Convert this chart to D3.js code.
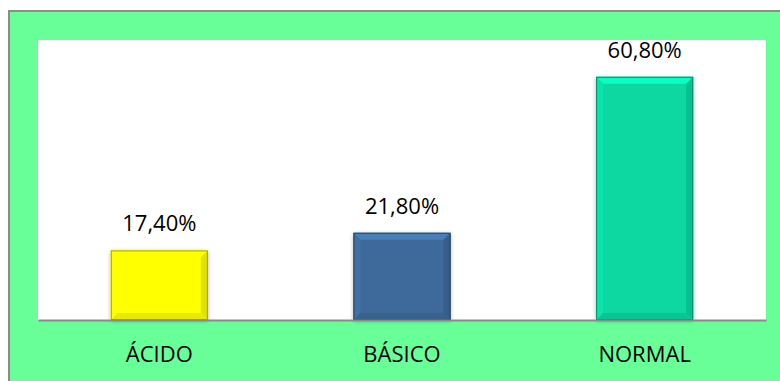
<!DOCTYPE html>
<html>
<head>
<meta charset="utf-8">
<script src="https://cdn.jsdelivr.net/npm/d3@7"></script>
<style>
  body { margin: 0; background: #fff; }
  text { font-family: "Open Sans", "Noto Sans", sans-serif; }
</style>
</head>
<body>
<svg id="chart"></svg>
<script>
// Chart data
const categories = ["ÁCIDO", "BÁSICO", "NORMAL"];
const values = [17.4, 21.8, 60.8];
const barColors = ["#FFFF00", "#3D6A9B", "#08D8A2"];
const yMax = 70;

const width = 780, height = 381;
const plot = { left: 38, right: 766, top: 40, bottom: 320 };

const svg = d3.select("#chart")
    .attr("width", width)
    .attr("height", height);

// Soft shadow for the bars
const defs = svg.append("defs");
const shadow = defs.append("filter").attr("id", "shadow")
    .attr("x", "-20%").attr("y", "-20%").attr("width", "140%").attr("height", "140%");
shadow.append("feDropShadow")
    .attr("dx", 0).attr("dy", 1).attr("stdDeviation", 2)
    .attr("flood-color", "#000").attr("flood-opacity", 0.3);

// Chart area background with the thin border on top/left
svg.append("rect")
    .attr("x", 9).attr("y", 11)
    .attr("width", width).attr("height", height)
    .attr("fill", "#68FF99")
    .attr("stroke", "#8c8c8c")
    .attr("stroke-width", 2);

// Plot area
svg.append("rect")
    .attr("x", plot.left).attr("y", plot.top)
    .attr("width", plot.right - plot.left)
    .attr("height", plot.bottom - plot.top)
    .attr("fill", "#fff");

// Scales
const x = d3.scaleBand()
    .domain(categories)
    .range([plot.left, plot.right])
    .paddingInner(0.6)
    .paddingOuter(0.3);

const y = d3.scaleLinear()
    .domain([0, yMax])
    .range([plot.bottom, plot.top]);

const data = categories.map((c, i) => ({ cat: c, value: values[i], color: barColors[i] }));

// Bars with a bevel look
const bev = 7;
const bars = svg.selectAll(".bar")
    .data(data)
    .enter().append("g")
    .attr("class", "bar");

bars.append("rect")
    .attr("x", d => x(d.cat))
    .attr("y", d => y(d.value))
    .attr("width", x.bandwidth())
    .attr("height", d => y(0) - y(d.value))
    .attr("fill", d => d.color)
    .attr("filter", "url(#shadow)");

function facet(d, side) {
    const x0 = x(d.cat), x1 = x0 + x.bandwidth();
    const y0 = y(d.value), y1 = y(0);
    const pts = {
        top: [[x0, y0], [x1, y0], [x1 - bev, y0 + bev], [x0 + bev, y0 + bev]],
        bottom: [[x0, y1], [x1, y1], [x1 - bev, y1 - bev], [x0 + bev, y1 - bev]],
        left: [[x0, y0], [x0 + bev, y0 + bev], [x0 + bev, y1 - bev], [x0, y1]],
        right: [[x1, y0], [x1 - bev, y0 + bev], [x1 - bev, y1 - bev], [x1, y1]]
    }[side];
    return pts.map(p => p.join(",")).join(" ");
}

const shades = { top: c => d3.color(c).brighter(0.5), left: c => d3.color(c).brighter(0.15),
                 right: c => d3.color(c).darker(0.35), bottom: c => d3.color(c).darker(0.25) };

["top", "left", "right", "bottom"].forEach(side => {
    bars.append("polygon")
        .attr("points", d => facet(d, side))
        .attr("fill", d => shades[side](d.color));
});

bars.append("rect")
    .attr("x", d => x(d.cat) + 0.5)
    .attr("y", d => y(d.value) + 0.5)
    .attr("width", x.bandwidth() - 1)
    .attr("height", d => y(0) - y(d.value) - 1)
    .attr("fill", "none")
    .attr("stroke", d => d3.color(d.color).darker(1.2))
    .attr("stroke-width", 1);

// Value labels
svg.selectAll(".value-label")
    .data(data)
    .enter().append("text")
    .attr("class", "value-label")
    .attr("x", d => x(d.cat) + x.bandwidth() / 2)
    .attr("y", d => y(d.value) - 19)
    .attr("text-anchor", "middle")
    .attr("font-size", 22)
    .attr("fill", "#000")
    .text(d => d.value.toFixed(2).replace(".", ",") + "%");

// Category axis
const xAxis = d3.axisBottom(x).tickSize(0).tickPadding(26);
const gx = svg.append("g")
    .attr("transform", "translate(0," + plot.bottom + ")")
    .call(xAxis);
gx.select(".domain")
    .attr("stroke", "#8a8a8a")
    .attr("stroke-width", 2);
gx.selectAll("text")
    .attr("font-size", 22)
    .attr("font-family", "'Open Sans', 'Noto Sans', sans-serif")
    .attr("fill", "#000");
</script>
</body>
</html>
